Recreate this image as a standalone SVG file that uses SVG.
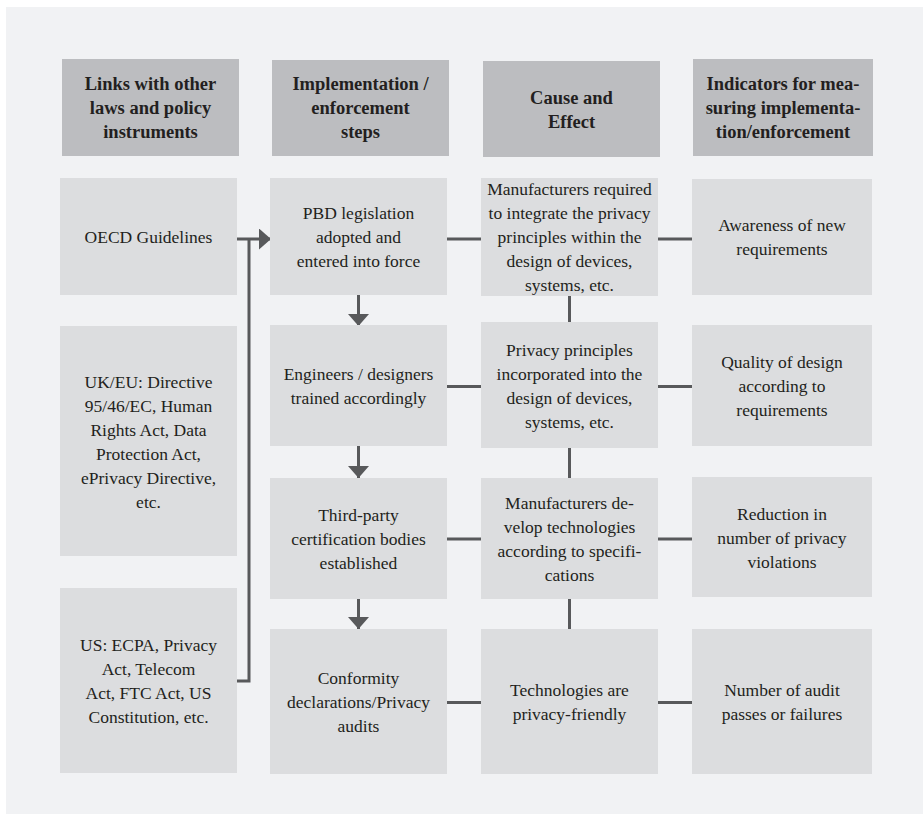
<svg xmlns="http://www.w3.org/2000/svg" width="923" height="814" viewBox="0 0 923 814">
<defs>
<style>
.hdr{fill:#bcbdc0}
.box{fill:#dcdddf}
text{fill:#231f20;text-anchor:middle}
.h{font-size:18.5px;font-weight:bold}
.b{font-size:17.5px}
.c{stroke:#58595b;stroke-width:3;fill:none}
</style>
<marker id="ah" markerUnits="userSpaceOnUse" markerWidth="12" markerHeight="21" refX="12" refY="10.5" orient="auto">
<path d="M0,0 L12,10.5 L0,21 z" fill="#58595b"/>
</marker>
</defs>
<rect x="6" y="7" width="917" height="807" fill="#f1f2f4"/>

<g id="connectors">
<line class="c" x1="237" y1="239" x2="271" y2="239" marker-end="url(#ah)"/>
<path class="c" d="M237,681 H249 V239"/>
<line class="c" x1="358.5" y1="295" x2="358.5" y2="326" marker-end="url(#ah)"/>
<line class="c" x1="358.5" y1="446" x2="358.5" y2="478" marker-end="url(#ah)"/>
<line class="c" x1="358.5" y1="599" x2="358.5" y2="629" marker-end="url(#ah)"/>
<line class="c" x1="447" y1="239" x2="481" y2="239"/>
<line class="c" x1="658" y1="239" x2="692" y2="239"/>
<line class="c" x1="447" y1="386.5" x2="481" y2="386.5"/>
<line class="c" x1="658" y1="386.5" x2="692" y2="386.5"/>
<line class="c" x1="447" y1="539" x2="481" y2="539"/>
<line class="c" x1="658" y1="539" x2="692" y2="539"/>
<line class="c" x1="447" y1="702.5" x2="481" y2="702.5"/>
<line class="c" x1="658" y1="702.5" x2="692" y2="702.5"/>
<line class="c" x1="569.5" y1="296" x2="569.5" y2="322"/>
<line class="c" x1="569.5" y1="448" x2="569.5" y2="478"/>
<line class="c" x1="569.5" y1="599" x2="569.5" y2="629"/>
</g>

<g id="nodes" font-family="'Liberation Serif', 'Times New Roman', Times, 'Noto Serif', 'DejaVu Serif', serif">
<g id="h1"><rect class="hdr" x="62" y="59" width="177" height="97"/>
<text class="h" x="150.5" y="90">Links with other</text>
<text class="h" x="150.5" y="114">laws and policy</text>
<text class="h" x="150.5" y="138">instruments</text></g>
<g id="h2"><rect class="hdr" x="272" y="60" width="177" height="96"/>
<text class="h" x="360.5" y="90">Implementation /</text>
<text class="h" x="360.5" y="114">enforcement</text>
<text class="h" x="360.5" y="138">steps</text></g>
<g id="h3"><rect class="hdr" x="483" y="61" width="177" height="96"/>
<text class="h" x="571.5" y="103.5">Cause and</text>
<text class="h" x="571.5" y="127.5">Effect</text></g>
<g id="h4"><rect class="hdr" x="693" y="59" width="180" height="97"/>
<text class="h" x="783" y="90">Indicators for mea-</text>
<text class="h" x="783" y="114">suring implementa-</text>
<text class="h" x="783" y="138">tion/enforcement</text></g>

<g id="oecd"><rect class="box" x="60" y="178" width="177" height="117"/>
<text class="b" x="148.5" y="243">OECD Guidelines</text></g>
<g id="ukeu"><rect class="box" x="60" y="326" width="177" height="230"/>
<text class="b" x="148.5" y="387.5">UK/EU: Directive</text>
<text class="b" x="148.5" y="411.5">95/46/EC, Human</text>
<text class="b" x="148.5" y="435.5">Rights Act, Data</text>
<text class="b" x="148.5" y="459.5">Protection Act,</text>
<text class="b" x="148.5" y="483.5">ePrivacy Directive,</text>
<text class="b" x="148.5" y="507.5">etc.</text></g>
<g id="us"><rect class="box" x="60" y="588" width="177" height="185"/>
<text class="b" x="148.5" y="650.5">US: ECPA, Privacy</text>
<text class="b" x="148.5" y="674.5">Act, Telecom</text>
<text class="b" x="148.5" y="698.5">Act, FTC Act, US</text>
<text class="b" x="148.5" y="722.5">Constitution, etc.</text></g>

<g id="pbd"><rect class="box" x="270" y="178" width="177" height="117"/>
<text class="b" x="358.5" y="219">PBD legislation</text>
<text class="b" x="358.5" y="243">adopted and</text>
<text class="b" x="358.5" y="267">entered into force</text></g>
<g id="eng"><rect class="box" x="270" y="325" width="177" height="121"/>
<text class="b" x="358.5" y="380">Engineers / designers</text>
<text class="b" x="358.5" y="404">trained accordingly</text></g>
<g id="third"><rect class="box" x="270" y="478" width="177" height="121"/>
<text class="b" x="358.5" y="521">Third-party</text>
<text class="b" x="358.5" y="545">certification bodies</text>
<text class="b" x="358.5" y="569">established</text></g>
<g id="conf"><rect class="box" x="270" y="629" width="177" height="145"/>
<text class="b" x="358.5" y="684">Conformity</text>
<text class="b" x="358.5" y="708">declarations/Privacy</text>
<text class="b" x="358.5" y="732">audits</text></g>

<g id="mreq"><rect class="box" x="481" y="178" width="177" height="118"/>
<text class="b" x="569.5" y="195">Manufacturers required</text>
<text class="b" x="569.5" y="219">to integrate the privacy</text>
<text class="b" x="569.5" y="243">principles within the</text>
<text class="b" x="569.5" y="267">design of devices,</text>
<text class="b" x="569.5" y="291">systems, etc.</text></g>
<g id="pp"><rect class="box" x="481" y="322" width="177" height="126"/>
<text class="b" x="569.5" y="356">Privacy principles</text>
<text class="b" x="569.5" y="380">incorporated into the</text>
<text class="b" x="569.5" y="404">design of devices,</text>
<text class="b" x="569.5" y="428">systems, etc.</text></g>
<g id="mdev"><rect class="box" x="481" y="478" width="177" height="121"/>
<text class="b" x="569.5" y="509">Manufacturers de-</text>
<text class="b" x="569.5" y="533">velop technologies</text>
<text class="b" x="569.5" y="557">according to specifi-</text>
<text class="b" x="569.5" y="581">cations</text></g>
<g id="tech"><rect class="box" x="481" y="629" width="177" height="145"/>
<text class="b" x="569.5" y="696">Technologies are</text>
<text class="b" x="569.5" y="720">privacy-friendly</text></g>

<g id="aware"><rect class="box" x="692" y="179" width="180" height="116"/>
<text class="b" x="782" y="231">Awareness of new</text>
<text class="b" x="782" y="255">requirements</text></g>
<g id="qual"><rect class="box" x="692" y="325" width="180" height="121"/>
<text class="b" x="782" y="368">Quality of design</text>
<text class="b" x="782" y="392">according to</text>
<text class="b" x="782" y="416">requirements</text></g>
<g id="red"><rect class="box" x="692" y="477" width="180" height="120"/>
<text class="b" x="782" y="520">Reduction in</text>
<text class="b" x="782" y="544">number of privacy</text>
<text class="b" x="782" y="568">violations</text></g>
<g id="num"><rect class="box" x="692" y="629" width="180" height="145"/>
<text class="b" x="782" y="696">Number of audit</text>
<text class="b" x="782" y="720">passes or failures</text></g>
</g>
</svg>
